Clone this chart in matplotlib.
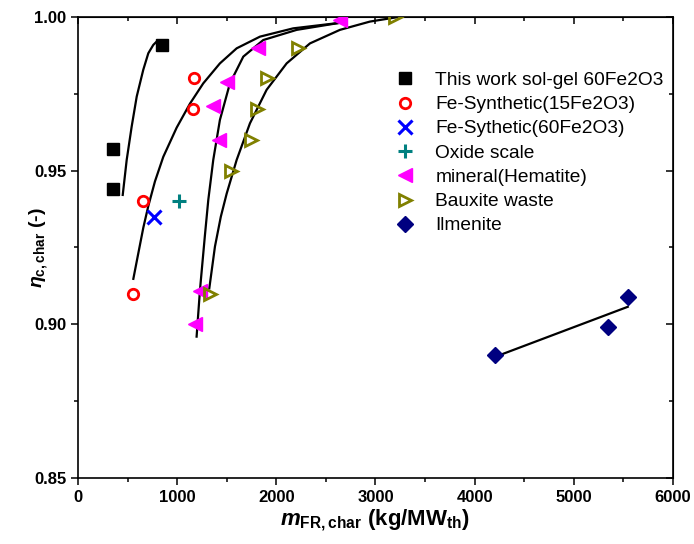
#!/usr/bin/env python3

import numpy as np
import matplotlib
matplotlib.use('Agg')
import matplotlib.pyplot as plt
from matplotlib.ticker import MultipleLocator, FormatStrFormatter

# measured points
solgel_x = [353, 353, 847]
solgel_y = [0.957, 0.944, 0.991]
syn15_x = [1169, 1159, 655, 554]
syn15_y = [0.980, 0.970, 0.940, 0.910]
syn60_x = [766]
syn60_y = [0.935]
oxide_x = [1018]
oxide_y = [0.940]
hem_x = [2640, 1815, 1502, 1361, 1421, 1230, 1179]
hem_y = [0.999, 0.990, 0.979, 0.971, 0.960, 0.911, 0.900]
baux_x = [3196, 2218, 1905, 1804, 1744, 1542, 1331]
baux_y = [1.000, 0.990, 0.980, 0.970, 0.960, 0.950, 0.910]
ilm_x = [4204, 5343, 5544]
ilm_y = [0.890, 0.899, 0.909]

# fitted curves
fit1_x = [451, 491, 541, 592, 658, 709, 759, 793]
fit1_y = [0.9421, 0.9535, 0.9643, 0.9741, 0.9828, 0.9882, 0.9909, 0.9920]
fit2_x = [558, 608, 659, 709, 776, 860, 995, 1129, 1263, 1431, 1600, 1835, 2170, 2641]
fit2_y = [0.9148, 0.9231, 0.9315, 0.9385, 0.9465, 0.9545, 0.9640, 0.9718, 0.9784, 0.9849,
          0.9898, 0.9936, 0.9963, 0.9981]
fit3_x = [1196, 1230, 1280, 1314, 1364, 1431, 1532, 1667, 1868, 2205, 2641]
fit3_y = [0.8960, 0.9112, 0.9290, 0.9405, 0.9535, 0.9665, 0.9784, 0.9871, 0.9925, 0.9958, 0.9981]
fit4_x = [1324, 1381, 1440, 1499, 1600, 1734, 1902, 2104, 2339, 2641, 2944, 3213]
fit4_y = [0.9117, 0.9253, 0.9350, 0.9425, 0.9535, 0.9654, 0.9763, 0.9849, 0.9914, 0.9958,
          0.9985, 0.9999]
fit5_x = [4204, 5544]
fit5_y = [0.8894, 0.9057]

plt.rcParams['font.family'] = 'Liberation Sans'
plt.rcParams['mathtext.fontset'] = 'custom'
plt.rcParams['mathtext.rm'] = 'Liberation Sans:bold'
plt.rcParams['mathtext.it'] = 'Liberation Sans:italic:bold'
plt.rcParams['mathtext.bf'] = 'Liberation Sans:bold'

fig = plt.figure(figsize=(6.94, 5.44), dpi=100)
ax = fig.add_axes([0.1124, 0.1213, 0.8573, 0.8475])

for fx, fy in [(fit1_x, fit1_y), (fit2_x, fit2_y), (fit3_x, fit3_y), (fit4_x, fit4_y), (fit5_x, fit5_y)]:
    ax.plot(fx, fy, '-', color='black', lw=1.6, zorder=2, solid_joinstyle='round')

ax.plot(solgel_x, solgel_y, 's', color='black', ms=8.5, ls='none', label='This work sol-gel 60Fe2O3', zorder=3)
ax.plot(syn15_x, syn15_y, 'o', mfc='none', mec='#ff0000', mew=2, ms=7.5, ls='none', label='Fe-Synthetic(15Fe2O3)', zorder=3)
ax.plot(syn60_x, syn60_y, 'x', color='#0000ff', mew=2.2, ms=10, ls='none', label='Fe-Sythetic(60Fe2O3)', zorder=3)
ax.plot(oxide_x, oxide_y, '+', color='#008080', mew=2.2, ms=10, ls='none', label='Oxide scale', zorder=3)
ax.plot(hem_x, hem_y, '<', color='#ff00ff', ms=10, ls='none', label='mineral(Hematite)', zorder=3)
ax.plot(baux_x, baux_y, '>', mfc='none', mec='#808000', mew=2, ms=9, ls='none', label='Bauxite waste', zorder=3)
ax.plot(ilm_x, ilm_y, 'D', color='#000080', ms=8.5, ls='none', label='Ilmenite', zorder=3)

ax.set_xlim(0, 6000)
ax.set_ylim(0.85, 1.00)
ax.xaxis.set_major_locator(MultipleLocator(1000))
ax.xaxis.set_minor_locator(MultipleLocator(500))
ax.yaxis.set_major_locator(MultipleLocator(0.05))
ax.yaxis.set_minor_locator(MultipleLocator(0.025))
ax.yaxis.set_major_formatter(FormatStrFormatter('%.2f'))
ax.tick_params(which='major', direction='out', length=5, width=1.1, labelsize=12)
ax.tick_params(which='minor', direction='out', length=3, width=1.1)
for lbl in ax.get_xticklabels() + ax.get_yticklabels():
    lbl.set_fontweight('bold')
for s in ax.spines.values():
    s.set_linewidth(1.2)

sx = ax.secondary_xaxis('top')
sx.xaxis.set_major_locator(MultipleLocator(1000))
sx.xaxis.set_minor_locator(MultipleLocator(500))
sx.tick_params(which='both', direction='in', labeltop=False, width=1.1)
sx.tick_params(which='major', length=5)
sx.tick_params(which='minor', length=3)
sy = ax.secondary_yaxis('right')
sy.yaxis.set_major_locator(MultipleLocator(0.05))
sy.yaxis.set_minor_locator(MultipleLocator(0.025))
sy.tick_params(which='both', direction='in', labelright=False, width=1.1)
sy.tick_params(which='major', length=5)
sy.tick_params(which='minor', length=3)

ax.set_xlabel(r'$\mathit{m}_{\mathrm{FR,char}}$ (kg/MW$_{\mathrm{th}}$)', fontsize=16, fontweight='bold', labelpad=2)
ax.set_ylabel(r'$\eta_{\mathrm{c,char}}$ (-)', fontsize=14, fontweight='bold')
ax.yaxis.set_label_coords(-0.047, 0.5)

ax.legend(loc='upper left', bbox_to_anchor=(0.517, 0.898), frameon=False, fontsize=13.75,
          handletextpad=1.0, labelspacing=0.36, handlelength=1.2, borderaxespad=0)

fig.savefig('out.png', dpi=100)
